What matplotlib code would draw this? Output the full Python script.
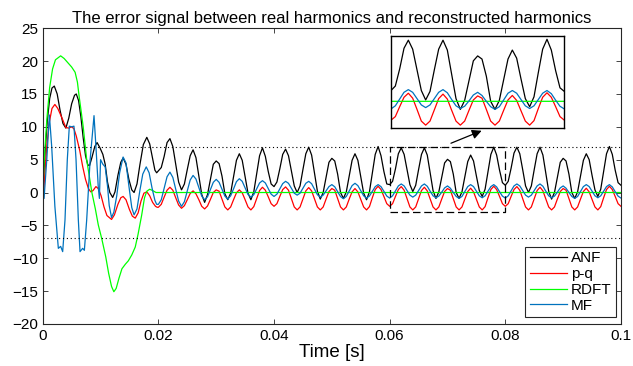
import numpy as np
import matplotlib
matplotlib.use("Agg")
import matplotlib.pyplot as plt

plt.rcParams["font.family"] = ["Liberation Sans", "DejaVu Sans"]

# --- data (time in s, error value) ---
# ANF: transient part (irregular samples) then 0.0005 s samples from 0.02 s
anf_t_early = [0.0, 0.0004, 0.0008, 0.0012, 0.0016, 0.0020, 0.0025, 0.0030, 0.0035, 0.0040,
               0.0045, 0.0050, 0.0055, 0.0058, 0.0062, 0.0066, 0.0070, 0.0074, 0.0078, 0.0081,
               0.0085, 0.0090, 0.0094, 0.0099, 0.0104, 0.0108, 0.0112, 0.0116, 0.0121, 0.0125,
               0.0130, 0.0135, 0.0139, 0.0144, 0.0149, 0.0154, 0.0158, 0.0163, 0.0168, 0.0174,
               0.0180, 0.0185, 0.0190, 0.0194, 0.0197]
anf_early = [0.0, 6.0, 11.0, 14.3, 15.9, 16.2, 15.0, 12.5, 10.5, 9.8,
             11.3, 13.5, 14.8, 15.0, 14.0, 11.5, 8.3, 5.6, 4.2, 4.1,
             5.3, 7.0, 7.6, 6.8, 5.8, 4.3, 1.6, 0.0, -0.75, 0.1,
             2.6, 4.6, 5.25, 4.3, 2.0, 0.4, 0.0, 1.3, 4.2, 7.3,
             8.4, 7.4, 5.2, 3.4, 3.0]
anf_late = [
    3.3, 3.8, 5.5, 7.6, 8.2, 7.0, 4.3, 1.6,
    0.4, 1.3, 3.5, 5.6, 6.5, 5.3, 2.5, -0.3,
    -1.5, -0.3, 2.0, 4.3, 4.8, 4.4, 2.5, -0.2,
    -1.1, -0.1, 2.4, 4.9, 5.9, 4.9, 2.4, -0.1,
    -1.1, 0.1, 2.9, 5.6, 6.8, 5.5, 3.2, 1.3,
    0.9, 1.6, 3.6, 5.8, 6.6, 5.6, 3.3, 1.0,
    0.0, 1.0, 3.5, 5.9, 6.9, 5.7, 3.0, 0.2,
    -1.0, 0.0, 2.3, 4.6, 5.2, 4.8, 2.8, 0.0,
    -0.9, 0.1, 2.5, 4.9, 5.9, 4.9, 2.4, -0.1,
    -1.1, 0.1, 3.0, 5.8, 7.0, 5.6, 3.2, 1.3,
    1.2, 1.7, 3.6, 5.9, 6.8, 5.8, 3.5, 1.2,
    0.15, 1.1, 3.5, 5.8, 6.8, 5.7, 3.0, 0.3,
    -0.9, 0.1, 2.3, 4.5, 5.05, 4.7, 2.8, 0.0,
    -0.9, 0.1, 2.4, 4.7, 5.7, 4.8, 2.5, 0.3,
    -0.6, 0.5, 3.2, 5.8, 6.9, 5.7, 3.4, 1.5,
    1.1, 1.7, 3.7, 6.0, 6.9, 5.9, 3.5, 1.0,
    0.0, 1.0, 3.5, 5.9, 6.9, 5.7, 3.0, 0.2,
    -1.0, 0.0, 2.3, 4.6, 5.2, 4.8, 2.8, 0.0,
    -0.9, 0.1, 2.5, 4.9, 5.9, 5.0, 2.6, 0.4,
    -0.6, 0.5, 3.2, 5.9, 7.0, 5.8, 3.4, 1.5,
    1.1]

# p-q
pq_t_early = [0.0, 0.0003, 0.0007, 0.0011, 0.0016, 0.0021, 0.0026, 0.0033, 0.0040, 0.0045,
              0.0050, 0.0054, 0.0058, 0.0064, 0.0069, 0.0074, 0.0079, 0.0083, 0.0087, 0.0092,
              0.0096, 0.0101, 0.0106, 0.0111, 0.0119, 0.0124, 0.0130, 0.0135, 0.0139, 0.0144,
              0.0150, 0.0155, 0.0160, 0.0165, 0.0170, 0.0175, 0.0180, 0.0185, 0.0190, 0.0195,
              0.0198]
pq_early = [-3.0, 2.0, 7.0, 10.5, 12.8, 13.4, 12.8, 11.4, 9.9, 9.8,
            10.0, 9.7, 8.6, 6.4, 4.0, 2.0, 0.6, 0.1, 0.3, 0.9,
            0.6, -0.5, -2.2, -3.5, -4.1, -3.4, -1.8, -0.8, -0.6, -1.1,
            -2.6, -3.6, -3.9, -3.1, -1.3, -0.1, 0.1, -0.5, -1.5, -2.1,
            -2.25]
pq_late = [
    -2.25, -1.8, -0.7, 0.35, 0.8, 0.35, -0.8, -1.9,
    -2.4, -2.0, -1.1, -0.15, 0.25, -0.2, -1.1, -2.1,
    -2.5, -2.05, -1.05, 0.0, 0.4, 0.2, -1.0, -2.2,
    -2.65, -2.2, -1.1, -0.05, 0.4, -0.05, -1.1, -2.2,
    -2.65, -2.15, -0.9, 0.3, 0.8, 0.35, -0.65, -1.7,
    -2.1, -1.7, -0.6, 0.45, 0.85, 0.35, -0.9, -2.2,
    -2.65, -2.2, -0.95, 0.25, 0.75, 0.25, -1.0, -2.2,
    -2.65, -2.2, -1.0, 0.15, 0.6, 0.35, -0.9, -2.2,
    -2.65, -2.2, -1.0, 0.1, 0.6, 0.1, -1.05, -2.2,
    -2.65, -2.15, -0.8, 0.45, 0.95, 0.45, -0.6, -1.7,
    -2.1, -1.7, -0.6, 0.45, 0.9, 0.35, -0.9, -2.2,
    -2.65, -2.2, -0.95, 0.3, 0.8, 0.25, -1.0, -2.2,
    -2.65, -2.2, -1.0, 0.15, 0.6, 0.35, -0.9, -2.2,
    -2.65, -2.2, -1.0, 0.15, 0.65, 0.1, -1.05, -2.2,
    -2.65, -2.15, -0.8, 0.45, 0.95, 0.45, -0.6, -1.7,
    -2.1, -1.7, -0.6, 0.45, 0.9, 0.35, -0.9, -2.2,
    -2.65, -2.2, -0.95, 0.3, 0.8, 0.25, -1.0, -2.2,
    -2.65, -2.2, -1.0, 0.15, 0.6, 0.35, -0.9, -2.2,
    -2.65, -2.2, -1.0, 0.15, 0.65, 0.1, -1.05, -2.2,
    -2.65, -2.15, -0.8, 0.45, 0.95, 0.45, -0.6, -1.7,
    -2.1]

# RDFT
rdft_t = [0.0, 0.0003, 0.0007, 0.0012, 0.0017, 0.0022, 0.0031, 0.0037, 0.0044, 0.0050,
          0.0056, 0.0060, 0.0063, 0.0067, 0.0070, 0.0076, 0.0085, 0.0091, 0.0096, 0.0102,
          0.0109, 0.0114, 0.0119, 0.0123, 0.0127, 0.0132, 0.0137, 0.0143, 0.0148, 0.0154,
          0.0160, 0.0165, 0.0171, 0.0176, 0.0180, 0.0185, 0.0190, 0.0196, 0.1000]
rdft = [0.0, 5.5, 11.0, 16.0, 18.8, 20.2, 20.8, 20.4, 19.7, 19.1,
        18.3, 16.8, 14.6, 12.0, 10.0, 5.0, 0.0, -2.5, -4.9, -7.0,
        -9.8, -12.3, -14.3, -15.1, -14.6, -13.0, -11.6, -10.9, -10.4, -9.5,
        -8.3, -6.3, -3.5, -0.8, 0.2, 0.5, 0.3, 0.0, 0.0]

# MF
mf_t_early = [0.0, 0.00023, 0.0007, 0.00115, 0.00155, 0.0021, 0.0027, 0.0031, 0.00345, 0.00385,
              0.00425, 0.0046, 0.0050, 0.0054, 0.00576, 0.00616, 0.00645, 0.0069, 0.0072, 0.0076,
              0.0082, 0.00887, 0.0092, 0.0096, 0.0098, 0.0100, 0.0104, 0.0108, 0.0112, 0.0115,
              0.0119, 0.0123, 0.0128, 0.0133, 0.0139, 0.0144, 0.0149, 0.0154, 0.0158, 0.0163,
              0.0168, 0.0173, 0.0179, 0.0184, 0.0189, 0.0194, 0.0197]
mf_early = [0.0, -0.9, 5.0, 11.8, 7.0, -2.1, -8.5, -8.2, -9.0, -4.2,
            5.0, 10.1, 10.0, 10.1, 5.0, -4.2, -9.0, -8.5, -8.8, -4.2,
            5.0, 11.7, 7.0, 0.9, -0.9, 5.0, 4.3, 3.9, 1.0, -2.0,
            -3.8, -3.0, -0.5, 3.0, 5.4, 4.5, 1.0, -2.3, -3.4, -2.5,
            0.3, 2.8, 3.9, 3.0, 0.7, -1.2, -1.8]
mf_late = [
    -1.8, -1.1, 0.65, 2.4, 3.1, 2.3, 0.5, -1.3,
    -2.1, -1.4, 0.25, 1.9, 2.6, 2.05, 0.75, -0.55,
    -1.1, -0.65, 0.45, 1.55, 2.0, 1.55, 0.5, -0.55,
    -1.0, -0.5, 0.55, 1.65, 2.1, 1.7, 0.7, -0.3,
    -0.7, -0.33, 0.55, 1.45, 1.8, 1.45, 0.6, -0.25,
    -0.6, -0.25, 0.55, 1.35, 1.7, 1.4, 0.65, -0.1,
    -0.4, -0.1, 0.65, 1.4, 1.7, 1.34, 0.5, -0.34,
    -0.7, -0.4, 0.25, 0.9, 1.2, 0.87, 0.12, -0.62,
    -0.95, -0.6, 0.22, 1.05, 1.4, 1.05, 0.28, -0.5,
    -0.85, -0.54, 0.18, 0.89, 1.2, 0.89, 0.18, -0.54,
    -0.85, -0.5, 0.25, 1.0, 1.3, 1.0, 0.3, -0.4,
    -0.7, -0.4, 0.3, 1.0, 1.3, 0.95, 0.2, -0.5,
    -0.8, -0.55, 0.05, 0.7, 1.0, 0.65, 0.0, -0.6,
    -0.9, -0.6, 0.15, 0.9, 1.2, 0.9, 0.2, -0.5,
    -0.8, -0.5, 0.2, 0.9, 1.2, 0.85, 0.12, -0.55,
    -0.85, -0.5, 0.25, 1.0, 1.3, 1.0, 0.3, -0.4,
    -0.7, -0.4, 0.3, 1.0, 1.3, 0.95, 0.2, -0.5,
    -0.8, -0.55, 0.05, 0.7, 1.0, 0.65, 0.0, -0.6,
    -0.9, -0.6, 0.15, 0.9, 1.2, 0.9, 0.2, -0.5,
    -0.8, -0.5, 0.2, 0.9, 1.2, 0.85, 0.12, -0.55,
    -0.85]

zoom_box = (0.06, 0.08, -3, 7)   # region shown in the inset
limit_level = 7                   # dotted bounds

COL = {"ANF": "black", "p-q": "#ff0000", "RDFT": "#00ff00", "MF": "#0072bd"}


def late_time(vals):
    return 0.02 + 0.0005 * np.arange(len(vals))


def series():
    return [
        ("ANF", np.r_[anf_t_early, late_time(anf_late)], np.r_[anf_early, anf_late]),
        ("p-q", np.r_[pq_t_early, late_time(pq_late)], np.r_[pq_early, pq_late]),
        ("RDFT", np.array(rdft_t), np.array(rdft)),
        ("MF", np.r_[mf_t_early, late_time(mf_late)], np.r_[mf_early, mf_late]),
    ]


def style_axes(ax):
    for sp in ax.spines.values():
        sp.set_color("0.15")
        sp.set_linewidth(0.8)
    ax.tick_params(direction="in", length=3.5, width=0.6, top=True, right=True,
                   labelsize=11, colors="0.15", labelcolor="black")


def main():
    fig = plt.figure(figsize=(6.33, 3.66), dpi=100)
    ax = fig.add_axes([0.0675, 0.115, 0.9135, 0.8078])

    data = series()
    for name, t, v in data:
        ax.plot(t, v, color=COL[name], lw=0.9, label=name)

    ax.axhline(limit_level, color="black", ls=(0, (1, 2.5)), lw=0.8)
    ax.axhline(-limit_level, color="black", ls=(0, (1, 2.5)), lw=0.8)

    x0, x1, y0, y1 = zoom_box
    ax.plot([x0, x1, x1, x0, x0], [y0, y0, y1, y1, y0], color="black",
            ls=(0, (6, 3)), lw=0.9)
    ax.annotate("", xy=(0.0759, 9.4), xytext=(0.0706, 7.5),
                arrowprops=dict(arrowstyle="-|>", color="black", lw=0.9,
                                mutation_scale=14, shrinkA=0, shrinkB=0))

    ax.set_xlim(0, 0.1)
    ax.set_ylim(-20, 25)
    ax.set_xticks([0, 0.02, 0.04, 0.06, 0.08, 0.1])
    ax.set_xticklabels(["0", "0.02", "0.04", "0.06", "0.08", "0.1"])
    ax.set_yticks(np.arange(-20, 26, 5))
    style_axes(ax)
    ax.set_xlabel("Time [s]", fontsize=13.5, labelpad=1)
    ax.set_title("The error signal between real harmonics and reconstructed harmonics",
                 fontsize=12, pad=4)

    leg = ax.legend(loc="lower right", bbox_to_anchor=(0.992, 0.022), borderaxespad=0,
                    fancybox=False, edgecolor="0.15", fontsize=11, handlelength=2.4,
                    labelspacing=0.12, borderpad=0.3, handletextpad=0.3, framealpha=1)
    leg.get_frame().set_linewidth(0.8)

    ins = fig.add_axes([0.6177, 0.6495, 0.2738, 0.253])
    for name, t, v in data:
        ins.plot(t, v, color=COL[name], lw=0.9)
    ins.set_xlim(x0, x1)
    ins.set_ylim(y0, 7.3)
    ins.set_xticks([])
    ins.set_yticks([])
    for sp in ins.spines.values():
        sp.set_color("black")
        sp.set_linewidth(1.0)

    fig.savefig("out.png", dpi=100)


if __name__ == "__main__":
    main()
